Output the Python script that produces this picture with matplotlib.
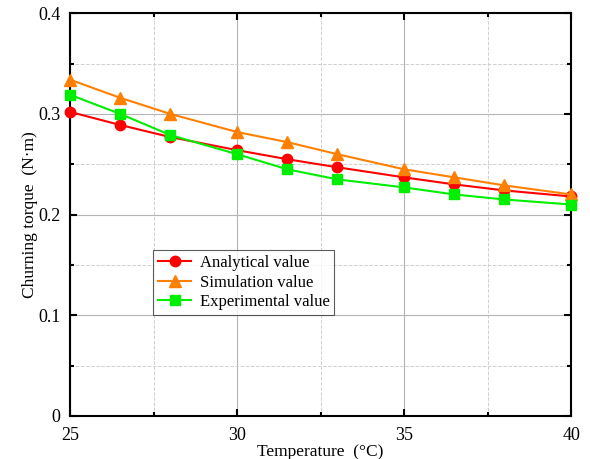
import matplotlib.pyplot as plt
from matplotlib.ticker import MultipleLocator

plt.rcParams['font.family'] = ['Liberation Serif', 'DejaVu Serif']

temperature = [25, 26.5, 28, 30, 31.5, 33, 35, 36.5, 38, 40]
analytical = [0.302, 0.289, 0.277, 0.264, 0.255, 0.247, 0.237, 0.230, 0.224, 0.218]
simulation = [0.334, 0.316, 0.300, 0.282, 0.272, 0.260, 0.245, 0.237, 0.229, 0.220]
experimental = [0.319, 0.300, 0.279, 0.260, 0.245, 0.235, 0.227, 0.220, 0.215, 0.210]
yticks = [0, 0.1, 0.2, 0.3, 0.4]
ytick_labels = ['0', '0.1', '0.2', '0.3', '0.4']

fig = plt.figure(figsize=(5.9, 4.59), dpi=100)
ax = fig.add_axes([0.119, 0.094, 0.849, 0.877])

ax.plot(temperature, analytical, color='#ff0000', marker='o', ms=7.5, lw=1.5,
        label='Analytical value', clip_on=False, zorder=3)
ax.plot(temperature, simulation, color='#ff8000', marker='^', ms=8.5, lw=1.5,
        label='Simulation value', clip_on=False, zorder=3)
ax.plot(temperature, experimental, color='#00ee00', marker='s', ms=6.5, lw=1.5,
        label='Experimental value', clip_on=False, zorder=3)

ax.set_xlim(25, 40)
ax.set_ylim(0, 0.4)
ax.xaxis.set_major_locator(MultipleLocator(5))
ax.xaxis.set_minor_locator(MultipleLocator(2.5))
ax.set_yticks(yticks)
ax.set_yticklabels(ytick_labels)
ax.yaxis.set_minor_locator(MultipleLocator(0.05))

ax.grid(which='major', color='#b4b4b4', lw=0.8, ls='-')
ax.grid(which='minor', color='#d0d0d0', lw=0.7, ls='--')
ax.set_axisbelow(True)

ax.tick_params(which='both', direction='in', top=True, right=True, labelsize=13, width=1.5)
ax.tick_params(which='major', length=5)
ax.tick_params(which='minor', length=3)
ax.tick_params(axis='x', pad=8)
ax.tick_params(axis='y', pad=7)
for s in ax.spines.values():
    s.set_linewidth(1.5)

ax.set_xlabel('Temperature\u2002(\u00b0C)', fontsize=12.5, labelpad=0)
ax.set_ylabel('Churning torque\u2002(N\u00b7m)', fontsize=12.5, labelpad=0)

leg = ax.legend(loc='lower left', bbox_to_anchor=(0.165, 0.25), fontsize=12, frameon=True,
                fancybox=False, edgecolor='#333333', handlelength=2.0, borderpad=0.3,
                labelspacing=0.22, handletextpad=0.5, borderaxespad=0)
leg.get_frame().set_linewidth(0.8)

fig.savefig('out.png', dpi=100)
